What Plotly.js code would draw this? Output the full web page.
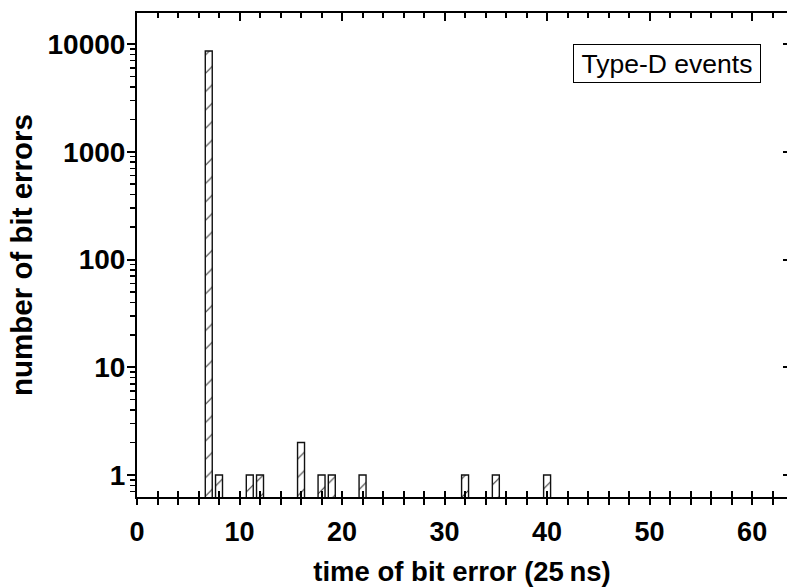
<!DOCTYPE html>
<html>
<head>
<meta charset="utf-8">
<script src="https://cdn.plot.ly/plotly-3.0.1.min.js"></script>
<style>html,body{margin:0;padding:0;background:#fff;}#chart{width:787px;height:587px;}</style>
</head>
<body>
<div id="chart"></div>
<script>
// Data
const binTimes = [7, 8, 11, 12, 16, 18, 19, 22, 32, 35, 40];
const bitErrors = [8600, 1, 1, 1, 2, 1, 1, 1, 1, 1, 1];
const xTickVals = [0, 10, 20, 30, 40, 50, 60];
const yTickVals = [1, 10, 100, 1000, 10000];
const yTickText = ['1', '10', '100', '1000', '10000'];
const legendText = 'Type-D events';
const xTitle = 'time of bit error (25\u2009ns)';
const yTitle = 'number of bit errors';

const FONT = 'Liberation Sans, Arial, Helvetica, sans-serif';
const xRange = [0, 63.4];
const yRange = [Math.log10(0.625), Math.log10(19400)];

// log minor ticks
const yMinor = [];
for (let d = -1; d <= 4; d++) {
  for (let k = 2; k <= 9; k++) {
    const v = k * Math.pow(10, d);
    if (v >= 0.625 && v <= 19400) yMinor.push(v);
  }
}

const traces = [
  {
    type: 'bar',
    x: binTimes,
    y: bitErrors,
    width: 0.68,
    marker: {
      color: 'white',
      line: {color: '#111', width: 1.4},
      pattern: {shape: '/', fgcolor: '#333', bgcolor: 'white', size: 13, solidity: 0.08}
    },
    hoverinfo: 'x+y',
    showlegend: false
  },
  {type: 'scatter', x: [], y: [], xaxis: 'x2', yaxis: 'y', showlegend: false, hoverinfo: 'skip'},
  {type: 'scatter', x: [], y: [], xaxis: 'x3', yaxis: 'y', showlegend: false, hoverinfo: 'skip'},
  {type: 'scatter', x: [], y: [], xaxis: 'x', yaxis: 'y2', showlegend: false, hoverinfo: 'skip'}
];

const baseX = {
  range: xRange,
  showgrid: false,
  zeroline: false,
  fixedrange: true
};

const layout = {
  width: 787,
  height: 587,
  margin: {l: 137, r: 0, t: 13, b: 90},
  paper_bgcolor: 'white',
  plot_bgcolor: 'white',
  font: {family: FONT, color: '#000'},
  bargap: 0,
  xaxis: Object.assign({}, baseX, {
    tickmode: 'array',
    tickvals: xTickVals,
    ticks: 'outside',
    ticklen: 6,
    tickwidth: 2,
    tickcolor: '#000',
    minor: {dtick: 2, tick0: 0, ticks: 'outside', ticklen: 6, tickwidth: 2, tickcolor: '#000', showgrid: false},
    showline: true,
    linewidth: 2,
    linecolor: '#000',
    tickfont: {family: FONT, size: 27, color: '#000', weight: 'bold'},
    ticklabelstandoff: 4,
    title: {text: xTitle, font: {family: FONT, size: 27.5, color: '#000', weight: 'bold'}, standoff: 22}
  }),
  xaxis2: Object.assign({}, baseX, {
    overlaying: 'x',
    anchor: 'y',
    side: 'bottom',
    tickmode: 'array',
    tickvals: xTickVals,
    ticks: 'inside',
    ticklen: 6,
    tickwidth: 2,
    tickcolor: '#000',
    minor: {dtick: 2, tick0: 0, ticks: 'inside', ticklen: 6, tickwidth: 2, tickcolor: '#000', showgrid: false},
    showline: false,
    showticklabels: false
  }),
  xaxis3: Object.assign({}, baseX, {
    overlaying: 'x',
    anchor: 'y',
    side: 'top',
    tickmode: 'array',
    tickvals: xTickVals,
    ticks: 'inside',
    ticklen: 8,
    tickwidth: 2,
    tickcolor: '#000',
    minor: {dtick: 2, tick0: 0, ticks: 'inside', ticklen: 5, tickwidth: 2, tickcolor: '#000', showgrid: false},
    showline: true,
    linewidth: 2,
    linecolor: '#000',
    showticklabels: false
  }),
  yaxis: {
    type: 'log',
    range: yRange,
    showgrid: false,
    zeroline: false,
    fixedrange: true,
    tickmode: 'array',
    tickvals: yTickVals,
    ticktext: yTickText,
    ticks: 'outside',
    ticklen: 8,
    tickwidth: 2,
    tickcolor: '#000',
    minor: {tickmode: 'array', tickvals: yMinor, ticks: 'outside', ticklen: 5, tickwidth: 1.5, tickcolor: '#000', showgrid: false},
    showline: true,
    linewidth: 2,
    linecolor: '#000',
    tickfont: {family: FONT, size: 28, color: '#000', weight: 'bold'},
    ticklabelstandoff: -4,
    title: {text: yTitle, font: {family: FONT, size: 29.5, color: '#000', weight: 'bold'}, standoff: 6}
  },
  yaxis2: {
    type: 'log',
    range: yRange,
    overlaying: 'y',
    anchor: 'x',
    side: 'right',
    showgrid: false,
    zeroline: false,
    fixedrange: true,
    tickmode: 'array',
    tickvals: yTickVals,
    ticks: 'inside',
    ticklen: 4,
    tickwidth: 2,
    tickcolor: '#000',
    showline: false,
    showticklabels: false
  },
  annotations: [{
    xref: 'paper', yref: 'paper',
    x: (666.5 - 137) / 650, y: (497 - 63.5) / 484,
    xanchor: 'center', yanchor: 'middle',
    text: legendText,
    showarrow: false,
    font: {family: FONT, size: 26.5, color: '#000'},
    bordercolor: '#000',
    borderwidth: 1,
    borderpad: 0,
    width: 186,
    height: 37,
    bgcolor: 'white'
  }]
};

Plotly.newPlot('chart', traces, layout, {displayModeBar: false, staticPlot: true});
</script>
</body>
</html>
